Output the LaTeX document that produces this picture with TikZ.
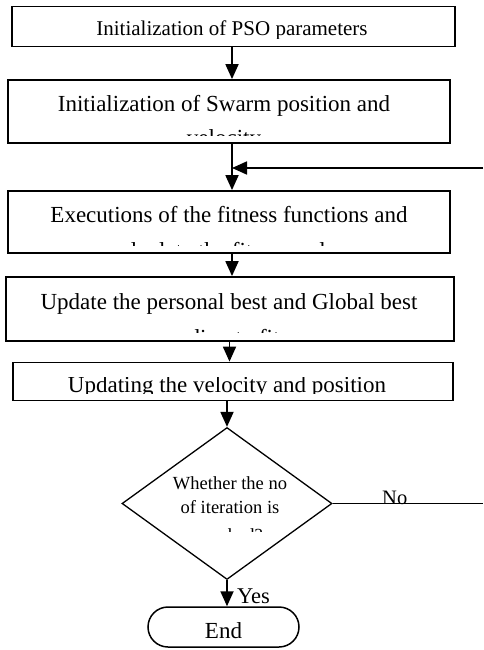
\documentclass[tikz,border=0pt]{standalone}
\usepackage{fontspec}
\setmainfont{Liberation Serif}
\usetikzlibrary{arrows.meta,shapes.geometric}
\begin{document}
\begin{tikzpicture}[x=1pt,y=-1pt,
  box/.style={draw,line width=1.8pt,rectangle,inner sep=0pt},
  conn/.style={line width=1.8pt},
  arr/.style={conn,-{Triangle[length=15pt,width=13pt]}},
  txt/.style={inner sep=0pt,font=\fontsize{23}{26}\selectfont},
  small/.style={inner sep=0pt,font=\fontsize{18.5}{21}\selectfont}]
\useasboundingbox (0,0) rectangle (483,650);
% boxes
\node[box,minimum width=443pt,minimum height=40pt] (b1) at (233.5,26.5) {};
\node[box,minimum width=442pt,minimum height=63pt] (b2) at (229,111.5) {};
\node[box,minimum width=442pt,minimum height=62pt] (b3) at (229,222) {};
\node[box,minimum width=448pt,minimum height=64pt] (b4) at (230,309) {};
\node[box,minimum width=440pt,minimum height=38pt] (b5) at (233,381.5) {};
\node[draw,line width=1.3pt,diamond,inner sep=0pt,minimum width=210pt,minimum height=152pt] (dia) at (227,503.5) {};
\node[draw,line width=1.5pt,rectangle,rounded corners=20pt,inner sep=0pt,minimum width=151pt,minimum height=40pt] (end) at (223.5,627) {};
% texts (clipped as in the reference)
\begin{scope}
\clip (20,8) rectangle (445,38.5);
\node[inner sep=0pt,font=\fontsize{21}{24}\selectfont,anchor=base] (t1) at (232,36) {Initialization of PSO parameters};
\end{scope}
\begin{scope}
\clip (15,84) rectangle (443,135);
\node[txt,anchor=base] (t2a) at (224,112) {Initialization of Swarm position and};
\node[txt,anchor=base] (t2b) at (224,145.5) {velocity};
\end{scope}
\begin{scope}
\clip (15,195) rectangle (443,245);
\node[txt,anchor=base] (t3a) at (229,222) {Executions of the fitness functions and};
\node[txt,anchor=base] (t3b) at (229,258.5) {calculate the fitness value};
\end{scope}
\begin{scope}
\clip (13,281) rectangle (447,332);
\node[txt,anchor=base] (t4a) at (229,309) {Update the personal best and Global best};
\node[txt,anchor=base] (t4b) at (229,345.5) {according to fitness};
\end{scope}
\begin{scope}
\clip (20,377.5) rectangle (445,393.5);
\node[txt,anchor=base] (t5) at (227,392) {Updating the velocity and position};
\end{scope}
\begin{scope}
\clip (160,465) rectangle (295,531);
\node[small,anchor=base] (d1) at (230,489) {Whether the no};
\node[small,anchor=base] (d2) at (230,513) {of iteration is};
\node[small,anchor=base] (d3) at (230,541) {reached?};
\end{scope}
\node[inner sep=0pt,font=\fontsize{20.5}{24}\selectfont,anchor=base west] (no) at (382,504.5) {No};
\node[inner sep=0pt,font=\fontsize{22.5}{26}\selectfont,anchor=base west] (yes) at (237,603) {Yes};
\node[inner sep=0pt,font=\fontsize{23}{26}\selectfont,anchor=base] (endt) at (end.center |- 0,638) {End};
% connectors
\coordinate (ca) at (232,0);
\coordinate (cb) at (229.5,0);
\coordinate (cc) at (227,0);
\coordinate (fbR) at (483,168);
\coordinate (noR) at (483,503.5);
\draw[arr] (b1.south -| ca) -- (b2.north -| ca);
\draw[arr] (b2.south -| ca) -- (b3.north -| ca);
\draw[arr] (fbR) -- (fbR -| ca);
\draw[arr] (b3.south -| ca) -- (b4.north -| ca);
\draw[arr] (b4.south -| cb) -- (b5.north -| cb);
\draw[arr] (b5.south -| cc) -- (dia.north);
\draw[conn,line width=1.6pt] (dia.east) -- (noR);
\draw[arr] (dia.south) -- (end.north -| dia.south);
\end{tikzpicture}
\end{document}
